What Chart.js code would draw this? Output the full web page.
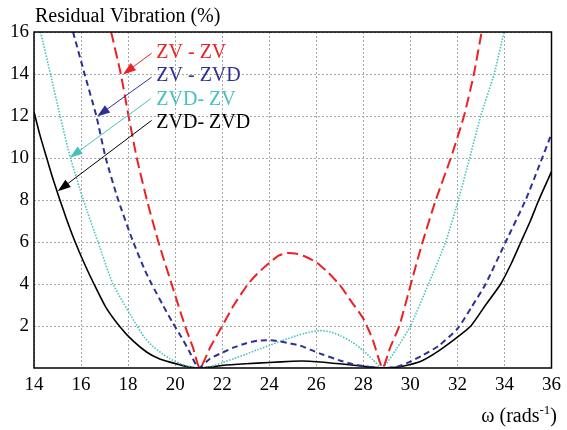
<!DOCTYPE html>
<html>
<head>
<meta charset="utf-8">
<script src="https://cdn.jsdelivr.net/npm/chart.js@4.4.1/dist/chart.umd.min.js"></script>
<style>
html, body { margin: 0; padding: 0; background: #fff; }
</style>
</head>
<body>
<canvas id="vibChart" width="567" height="430"></canvas>
<script>
// frequency (rad/s) and residual vibration (%)
var zvZvW  = [17.28, 17.69, 18.02, 18.37, 18.8, 19.29, 19.85, 20.42, 20.75, 21.05, 21.5, 22.0, 22.5, 23.1, 23.5, 24.0, 24.4, 24.75, 25.1, 25.5, 26.0, 26.5, 27.0, 27.5, 28.0, 28.4, 28.82, 29.15, 29.53, 30.02, 30.52, 31.08, 31.72, 32.28, 32.7, 33.03];
var zvZvV  = [16, 14, 12, 10, 8, 6, 4, 2, 1.0, 0, 1.0, 2.0, 3.0, 4.0, 4.5, 5.0, 5.35, 5.47, 5.45, 5.32, 5.04, 4.55, 3.95, 3.15, 2.35, 1.35, 0, 1.0, 2, 4, 6, 8, 10, 12, 14, 16];

var zvZvdW = [15.66, 16.15, 16.65, 17.05, 17.58, 18.2, 18.72, 19.0, 19.5, 19.9, 20.25, 20.6, 21.0, 21.48, 22.04, 22.5, 23.0, 23.5, 24.0, 24.44, 24.9, 25.3, 25.8, 26.28, 27.0, 27.5, 27.97, 28.5, 29.0, 29.5, 29.95, 30.52, 31.22, 32.0, 32.6, 33.2, 34.05, 34.9, 35.5, 36.0];
var zvZvdV = [16, 14, 12, 10, 8, 6.05, 4.64, 4.0, 2.95, 2.15, 1.5, 0.8, 0, 0.44, 0.75, 0.98, 1.17, 1.3, 1.32, 1.27, 1.17, 1.07, 0.85, 0.64, 0.36, 0.2, 0.1, 0.02, 0, 0.08, 0.28, 0.6, 1.07, 1.87, 2.9, 4, 6, 8, 9.7, 11.15];

var zvdZvW = [14.28, 14.7, 15.11, 15.55, 16.1, 16.72, 17.36, 18.38, 18.7, 19.08, 19.43, 19.78, 20.2, 20.5, 21.0, 21.5, 22.0, 22.5, 23.0, 23.5, 24.0, 24.5, 25.0, 25.5, 26.14, 26.6, 27.0, 27.5, 28.0, 28.4, 28.8, 29.4, 30.0, 30.77, 31.5, 32.04, 32.52, 32.99, 33.56, 33.98];
var zvdZvV = [16, 14, 12, 10, 8, 6, 4, 2, 1.45, 1.0, 0.7, 0.44, 0.22, 0.1, 0, 0.06, 0.25, 0.45, 0.65, 0.87, 1.07, 1.28, 1.48, 1.65, 1.78, 1.72, 1.55, 1.25, 0.83, 0.4, 0, 0.9, 2, 4, 6, 8, 10, 12, 14, 16];

var zvdZvdW = [14.0, 14.25, 14.54, 14.78, 15.04, 15.38, 15.75, 16.13, 16.55, 17.05, 17.67, 18.2, 18.8, 19.3, 19.78, 20.5, 21.0, 21.5, 22.0, 23.0, 24.0, 25.0, 25.4, 26.0, 27.0, 28.0, 28.8, 29.5, 29.95, 30.52, 31.22, 32.0, 32.57, 33.2, 33.84, 34.3, 34.7, 35.1, 35.46, 36.0];
var zvdZvdV = [12.2, 11.1, 10, 9.1, 8.2, 7.1, 6, 5.0, 4, 2.9, 1.94, 1.3, 0.75, 0.45, 0.28, 0.07, 0, 0.04, 0.12, 0.2, 0.26, 0.32, 0.33, 0.3, 0.2, 0.08, 0, 0.05, 0.15, 0.36, 0.83, 1.47, 2, 3, 4, 5, 6, 7, 8, 9.35];

var xTicks = [14, 16, 18, 20, 22, 24, 26, 28, 30, 32, 34, 36];
var yTicks = [2, 4, 6, 8, 10, 12, 14, 16];

var seriesNames = ['ZV - ZV', 'ZV - ZVD', 'ZVD- ZV', 'ZVD- ZVD'];

function pts(xs, ys) {
    return xs.map(function (x, i) { return { x: x, y: ys[i] }; });
}

var RED = '#ed2024', BLUE = '#2e3192', CYAN = '#45c2bc', BLACK = '#000000';
var serif = '"Liberation Serif", "Times New Roman", serif';

// labels with arrows, positioned in data units
var notes = [
    { text: seriesNames[0], color: RED,   at: [19.2, 15.0],  from: [19.0, 14.99], to: [17.78, 13.98] },
    { text: seriesNames[1], color: BLUE,  at: [19.2, 13.9],  from: [19.0, 13.85], to: [16.68, 11.98] },
    { text: seriesNames[2], color: CYAN,  at: [19.2, 12.78], from: [18.96, 12.82], to: [15.52, 10.01] },
    { text: seriesNames[3], color: BLACK, at: [19.2, 11.67], from: [19.0, 11.79], to: [15.01, 8.42] }
];

function drawArrow(ctx, x1, y1, x2, y2, color) {
    var ang = Math.atan2(y2 - y1, x2 - x1);
    var len = 13, half = 4.5;
    ctx.strokeStyle = color;
    ctx.fillStyle = color;
    ctx.lineWidth = 1;
    ctx.beginPath();
    ctx.moveTo(x1, y1);
    ctx.lineTo(x2 - Math.cos(ang) * len * 0.8, y2 - Math.sin(ang) * len * 0.8);
    ctx.stroke();
    ctx.beginPath();
    ctx.moveTo(x2, y2);
    ctx.lineTo(x2 - Math.cos(ang) * len - Math.sin(ang) * half, y2 - Math.sin(ang) * len + Math.cos(ang) * half);
    ctx.lineTo(x2 - Math.cos(ang) * len + Math.sin(ang) * half, y2 - Math.sin(ang) * len - Math.cos(ang) * half);
    ctx.closePath();
    ctx.fill();
}

var decorPlugin = {
    id: 'decor',
    afterDraw: function (chart) {
        var ctx = chart.ctx, a = chart.chartArea;
        var sx = chart.scales.x, sy = chart.scales.y;
        ctx.save();

        // frame
        ctx.strokeStyle = '#000';
        ctx.lineWidth = 1.5;
        ctx.strokeRect(a.left, a.top, a.right - a.left, a.bottom - a.top);

        // y title
        ctx.fillStyle = '#000';
        ctx.font = '20px ' + serif;
        ctx.textAlign = 'left';
        ctx.textBaseline = 'alphabetic';
        ctx.fillText('Residual Vibration (%)', 35, 22);

        // x title with superscript
        var main = '\u03c9 (rads', sup = '-1', tail = ')';
        ctx.font = '20px ' + serif;
        var wMain = ctx.measureText(main).width, wTail = ctx.measureText(tail).width;
        ctx.font = '13px ' + serif;
        var wSup = ctx.measureText(sup).width;
        var xEnd = 557, base = 422;
        var x0 = xEnd - wMain - wSup - wTail;
        ctx.font = '20px ' + serif;
        ctx.fillText(main, x0, base);
        ctx.font = '13px ' + serif;
        ctx.fillText(sup, x0 + wMain, base - 8);
        ctx.font = '20px ' + serif;
        ctx.fillText(tail, x0 + wMain + wSup, base);

        // legend notes
        ctx.font = '20px ' + serif;
        ctx.textBaseline = 'middle';
        notes.forEach(function (n) {
            drawArrow(ctx, sx.getPixelForValue(n.from[0]), sy.getPixelForValue(n.from[1]),
                sx.getPixelForValue(n.to[0]), sy.getPixelForValue(n.to[1]), n.color);
            ctx.fillStyle = n.color;
            ctx.fillText(n.text, sx.getPixelForValue(n.at[0]), sy.getPixelForValue(n.at[1]));
        });
        ctx.restore();
    }
};

var ctx = document.getElementById('vibChart').getContext('2d');
new Chart(ctx, {
    type: 'line',
    data: {
        datasets: [
            { label: seriesNames[0], data: pts(zvZvW, zvZvV), borderColor: RED, borderWidth: 2, borderDash: [11, 5] },
            { label: seriesNames[1], data: pts(zvZvdW, zvZvdV), borderColor: BLUE, borderWidth: 2, borderDash: [6, 4] },
            { label: seriesNames[2], data: pts(zvdZvW, zvdZvV), borderColor: CYAN, borderWidth: 1.6, borderDash: [1.5, 1.5] },
            { label: seriesNames[3], data: pts(zvdZvdW, zvdZvdV), borderColor: BLACK, borderWidth: 1.6 }
        ]
    },
    options: {
        responsive: false,
        animation: false,
        elements: { point: { radius: 0 }, line: { tension: 0.2, fill: false } },
        layout: { padding: { top: 32, right: 14, left: 0, bottom: 0 } },
        plugins: { legend: { display: false }, tooltip: { enabled: false } },
        scales: {
            x: {
                type: 'linear', min: 14, max: 36,
                afterBuildTicks: function (s) { s.ticks = xTicks.map(function (v) { return { value: v }; }); },
                afterFit: function (s) { s.height = 62; },
                ticks: { color: '#000', font: { family: serif, size: 19 }, padding: 6, maxRotation: 0, autoSkip: false },
                grid: { color: '#a6a6a6', lineWidth: 1, drawTicks: false },
                border: { display: false, dash: [2, 2] }
            },
            y: {
                min: 0, max: 16,
                afterBuildTicks: function (s) { s.ticks = yTicks.map(function (v) { return { value: v }; }); },
                afterFit: function (s) { s.width = 34; },
                ticks: { color: '#000', font: { family: serif, size: 19 }, padding: 5, autoSkip: false },
                grid: { color: '#a6a6a6', lineWidth: 1, drawTicks: false },
                border: { display: false, dash: [2, 2] }
            }
        }
    },
    plugins: [decorPlugin]
});
</script>
</body>
</html>
